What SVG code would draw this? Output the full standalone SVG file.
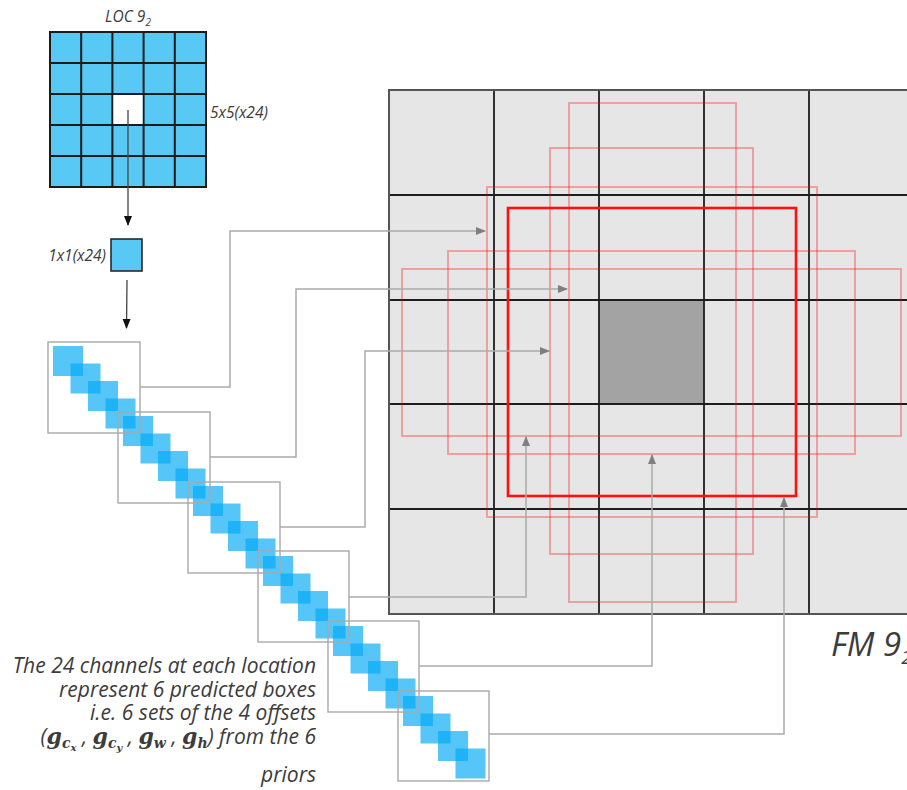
<svg xmlns="http://www.w3.org/2000/svg" width="907" height="790" viewBox="0 0 907 790">
  <defs>
    <marker id="tipDark" markerWidth="10" markerHeight="10" refX="9" refY="5" orient="auto" markerUnits="userSpaceOnUse">
      <path d="M0,1 L10,5 L0,9 Z" fill="#111"/>
    </marker>
    <marker id="tipGrey" markerWidth="10" markerHeight="10" refX="9" refY="5" orient="auto" markerUnits="userSpaceOnUse">
      <path d="M0,1 L10,5 L0,9 Z" fill="#7f7f7f"/>
    </marker>
  </defs>
  <style>
    .lbl { font-family: "Open Sans", "Liberation Sans", sans-serif; font-style: italic; fill: #3c3c3c; }
    .small { font-size: 15.5px; }
    .note { font-size: 21px; }
    .math { font-family: "DejaVu Serif", "Liberation Serif", serif; font-style: italic; font-weight: bold; }
    .cell { fill: #58c8f4; stroke: #1b1b1b; stroke-width: 2; }
    .chan { fill: #03a9f4; fill-opacity: 0.67; }
    .set { fill: none; stroke: #a8a8a8; stroke-width: 1.4; }
    .feed { fill: none; stroke: #444; stroke-width: 1.3; }
    .link { fill: none; stroke: #ababab; stroke-width: 1.5; }
    .fmline { stroke: #1e1e1e; stroke-width: 1.8; }
    .prior { fill: none; stroke: #ff0000; stroke-opacity: 0.3; stroke-width: 2; }
    .best { fill: none; stroke: #ff1010; stroke-width: 2.6; }
  </style>

  <!-- 5x5 localization map -->
  <g id="loc-map">
    <rect class="cell" x="50" y="32" width="156" height="155"/>
    <path class="cell" fill="none" d="M81.2,32V187 M112.4,32V187 M143.6,32V187 M174.8,32V187 M50,63H206 M50,94H206 M50,125H206 M50,156H206"/>
    <rect x="113.4" y="95" width="29.2" height="29" fill="#ffffff"/>
    <text class="lbl small" x="128" y="22" text-anchor="middle">LOC 9<tspan font-size="10" dy="4">2</tspan></text>
    <text class="lbl small" x="210" y="118">5x5(x24)</text>
  </g>

  <!-- single location, 24 channels -->
  <g id="loc-cell">
    <rect x="111" y="239" width="31" height="32" fill="#58c8f4" stroke="#2a2a2a" stroke-width="1.6"/>
    <text class="lbl small" x="106" y="261" text-anchor="end">1x1(x24)</text>
  </g>

  <!-- channel stack, grouped in sets of four -->
  <g id="set-1">
    <rect class="chan" x="53" y="346" width="30" height="30"/>
    <rect class="chan" x="70.5" y="363.5" width="30" height="30"/>
    <rect class="chan" x="88" y="381" width="30" height="30"/>
    <rect class="chan" x="105.5" y="398.5" width="30" height="30"/>
  </g>
  <g id="set-2">
    <rect class="chan" x="123" y="416" width="30" height="30"/>
    <rect class="chan" x="140.5" y="433.5" width="30" height="30"/>
    <rect class="chan" x="158" y="451" width="30" height="30"/>
    <rect class="chan" x="175.5" y="468.5" width="30" height="30"/>
  </g>
  <g id="set-3">
    <rect class="chan" x="193" y="486" width="30" height="30"/>
    <rect class="chan" x="210.5" y="503.5" width="30" height="30"/>
    <rect class="chan" x="228" y="521" width="30" height="30"/>
    <rect class="chan" x="245.5" y="538.5" width="30" height="30"/>
  </g>
  <g id="set-4">
    <rect class="chan" x="263" y="556" width="30" height="30"/>
    <rect class="chan" x="280.5" y="573.5" width="30" height="30"/>
    <rect class="chan" x="298" y="591" width="30" height="30"/>
    <rect class="chan" x="315.5" y="608.5" width="30" height="30"/>
  </g>
  <g id="set-5">
    <rect class="chan" x="333" y="626" width="30" height="30"/>
    <rect class="chan" x="350.5" y="643.5" width="30" height="30"/>
    <rect class="chan" x="368" y="661" width="30" height="30"/>
    <rect class="chan" x="385.5" y="678.5" width="30" height="30"/>
  </g>
  <g id="set-6">
    <rect class="chan" x="403" y="696" width="30" height="30"/>
    <rect class="chan" x="420.5" y="713.5" width="30" height="30"/>
    <rect class="chan" x="438" y="731" width="30" height="30"/>
    <rect class="chan" x="455.5" y="748.5" width="30" height="30"/>
  </g>
  <g id="set-frames">
    <rect class="set" x="48" y="342" width="92" height="91"/>
    <rect class="set" x="118" y="412" width="92" height="91"/>
    <rect class="set" x="188" y="482" width="92" height="91"/>
    <rect class="set" x="258" y="551" width="91" height="91"/>
    <rect class="set" x="328" y="621" width="91" height="91"/>
    <rect class="set" x="398" y="691" width="91" height="90"/>
  </g>

  <!-- feature map with default boxes -->
  <g id="fm-map">
    <rect x="389" y="90" width="530" height="524" fill="#e6e6e6"/>
    <rect x="599" y="300" width="105" height="104" fill="#a3a3a3"/>
    <path class="fmline" d="M494,90V614 M599,90V614 M704,90V614 M809,90V614 M389,195H907 M389,300H907 M389,404H907 M389,509H907"/>
    <path d="M907,90H389V614H907" fill="none" stroke="#555" stroke-width="2"/>
    <rect class="prior" x="569" y="103" width="167" height="499"/>
    <rect class="prior" x="550" y="148" width="203" height="406"/>
    <rect class="prior" x="487" y="187" width="330" height="330"/>
    <rect class="prior" x="448" y="251" width="407" height="203"/>
    <rect class="prior" x="402" y="269" width="499" height="167"/>
    <rect class="best" x="508" y="208" width="288" height="288"/>
    <text class="lbl" x="831" y="656" font-size="33" fill="#222">FM 9<tspan font-size="19" dy="8">2</tspan></text>
  </g>

  <!-- connectors -->
  <g id="connectors">
    <path class="feed" d="M128,110V225" marker-end="url(#tipDark)"/>
    <path class="feed" d="M127,280L126.5,328" marker-end="url(#tipDark)"/>
    <path class="link" d="M140,387H230V231H485" marker-end="url(#tipGrey)"/>
    <path class="link" d="M210,457H296V289H567" marker-end="url(#tipGrey)"/>
    <path class="link" d="M280,527H365V351H549" marker-end="url(#tipGrey)"/>
    <path class="link" d="M349,597H526V437" marker-end="url(#tipGrey)"/>
    <path class="link" d="M419,666H652V455" marker-end="url(#tipGrey)"/>
    <path class="link" d="M489,734H784V498" marker-end="url(#tipGrey)"/>
  </g>

  <!-- caption -->
  <g id="caption">
    <text class="lbl note" x="316" y="673" text-anchor="end">The 24 channels at each location</text>
    <text class="lbl note" x="316" y="697" text-anchor="end">represent 6 predicted boxes</text>
    <text class="lbl note" x="316" y="720" text-anchor="end">i.e. 6 sets of the 4 offsets</text>
    <text class="lbl note" x="316" y="744" text-anchor="end">(<tspan class="math" font-size="22">g</tspan><tspan class="math" font-size="14" dy="4">c</tspan><tspan class="math" font-size="10" dy="3">x</tspan><tspan dy="-7"> , </tspan><tspan class="math" font-size="22">g</tspan><tspan class="math" font-size="14" dy="4">c</tspan><tspan class="math" font-size="10" dy="3">y</tspan><tspan dy="-7"> , </tspan><tspan class="math" font-size="22">g</tspan><tspan class="math" font-size="14" dy="4">w</tspan><tspan dy="-4"> , </tspan><tspan class="math" font-size="22">g</tspan><tspan class="math" font-size="14" dy="4">h</tspan><tspan dy="-4">) from the 6</tspan></text>
    <text class="lbl note" x="316" y="782" text-anchor="end">priors</text>
  </g>
</svg>
